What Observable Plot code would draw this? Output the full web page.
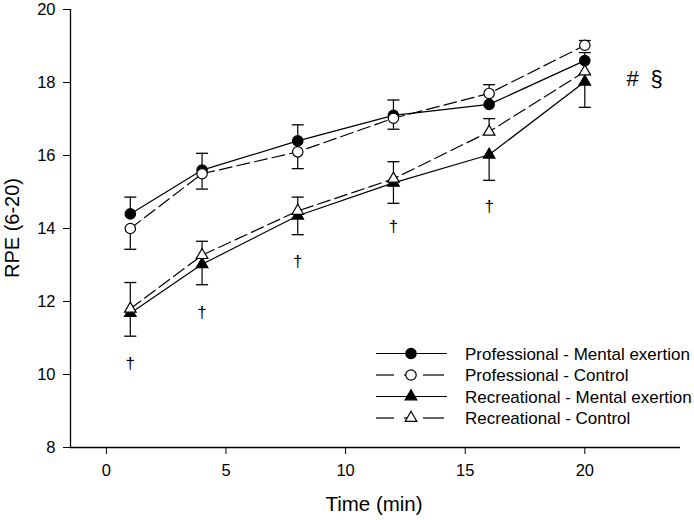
<!DOCTYPE html>
<html><head><meta charset="utf-8">
<script src="https://cdn.jsdelivr.net/npm/d3@7"></script>
<script src="https://cdn.jsdelivr.net/npm/@observablehq/plot@0.6"></script>
<style>
body{margin:0;background:#fff;}
svg{font-family:"Liberation Sans", Arial, sans-serif;}
</style>
</head><body><div id="chart"></div>
<script>
// ---- data ----
const times = [1, 4, 8, 12, 16, 20];
const seriesNames = ["Professional - Mental exertion", "Professional - Control", "Recreational - Mental exertion", "Recreational - Control"];
const proMental = [14.4, 15.6, 16.4, 17.1, 17.4, 18.6];
const proMentalErr = [0.46, 0.46, 0.44, 0.42, 0, 0.22];
const proControl = [14.0, 15.5, 16.1, 17.02, 17.7, 19.02];
const proControlErr = [-0.57, -0.42, -0.46, -0.3, 0.24, 0.13];
const recMental = [11.68, 13.02, 14.35, 15.25, 16.02, 18.02];
const recMentalErr = [-0.63, -0.56, -0.52, -0.56, -0.7, -0.7];
const recControl = [11.8, 13.27, 14.48, 15.36, 16.65, 18.3];
const recControlErr = [0.72, 0.38, 0.38, 0.47, 0.36, 0];
const daggerTimes = [1, 4, 8, 12, 16];
const daggerValues = [10.3, 11.7, 13.1, 14.05, 14.6];
const noteLabels = ["#", "§"];
const noteTimes = [22, 23];
const noteValue = 18.1;
const xTicks = [0, 5, 10, 15, 20];
const yTicks = [8, 10, 12, 14, 16, 18, 20];
const xDomain = [-1.5, 24];
const yDomain = [8, 20];

// ---- styles ----
const styles = [
  {symbol: "circle", fill: "black", dash: null, r: 5.2},
  {symbol: "circle", fill: "white", dash: "13,5", r: 5.2},
  {symbol: "triangle", fill: "black", dash: null, r: 4.3},
  {symbol: "triangle", fill: "white", dash: "13,5", r: 4.3}
];
const valuesList = [proMental, proControl, recMental, recControl];
const errList = [proMentalErr, proControlErr, recMentalErr, recControlErr];

const rows = [];
seriesNames.forEach((name, i) => {
  times.forEach((t, j) => {
    rows.push({series: name, idx: i, t, v: valuesList[i][j], err: errList[i][j], end: valuesList[i][j] + errList[i][j]});
  });
});
const errRows = rows.filter(d => d.err !== 0);
const daggers = daggerTimes.map((t, i) => ({t, v: daggerValues[i]}));
const notes = noteLabels.map((s, i) => ({s, t: noteTimes[i], v: noteValue}));

const capSymbol = {draw(ctx) { ctx.moveTo(-6, 0); ctx.lineTo(6, 0); }};

const marks = [
  Plot.ruleY([yDomain[0]], {stroke: "black", strokeWidth: 1.3}),
  Plot.ruleX([xDomain[0]], {stroke: "black", strokeWidth: 1.3}),
];
seriesNames.forEach((name, i) => {
  marks.push(Plot.line(rows.filter(d => d.idx === i), {x: "t", y: "v", stroke: "black", strokeWidth: 1.2, strokeDasharray: styles[i].dash}));
});
marks.push(Plot.ruleX(errRows, {x: "t", y1: "v", y2: "end", stroke: "black", strokeWidth: 1.2}));
marks.push(Plot.dot(errRows, {x: "t", y: "end", symbol: capSymbol, stroke: "black", strokeWidth: 1.3, fill: "none"}));
seriesNames.forEach((name, i) => {
  marks.push(Plot.dot(rows.filter(d => d.idx === i), {x: "t", y: "v", symbol: styles[i].symbol, r: styles[i].r, fill: styles[i].fill, stroke: "black", strokeWidth: 1.2}));
});
marks.push(Plot.text(daggers, {x: "t", y: "v", text: () => "†", fontSize: 17, fill: "black", fontFamily: "Liberation Sans, Arial, sans-serif"}));
marks.push(Plot.text(notes, {x: "t", y: "v", text: "s", fontSize: 22, fill: "black"}));
marks.push(Plot.axisX({ticks: xTicks, tickSize: 7, tickPadding: 10, fontSize: 16.5, label: null, stroke: "black"}));
marks.push(Plot.axisY({ticks: yTicks, tickSize: 7, tickPadding: 8, fontSize: 16.5, label: null, stroke: "black"}));

const chart = Plot.plot({
  width: 694,
  height: 520,
  marginLeft: 70,
  marginRight: 14,
  marginTop: 9,
  marginBottom: 73,
  x: {domain: xDomain},
  y: {domain: yDomain},
  style: {fontFamily: "Liberation Sans, Arial, sans-serif", color: "black", background: "white"},
  marks
});
document.getElementById("chart").appendChild(chart);

// ---- axis titles and legend ----
const svg = d3.select(chart);
svg.append("text").attr("x", 374).attr("y", 511).attr("text-anchor", "middle")
  .attr("font-size", 20.5).attr("fill", "black").text("Time (min)");
svg.append("text").attr("transform", "translate(19,228) rotate(-90)").attr("text-anchor", "middle")
  .attr("font-size", 20).attr("fill", "black").text("RPE (6-20)");

const legendY = [353.5, 375, 396.5, 418];
const lg = svg.append("g").attr("text-anchor", "start");
seriesNames.forEach((name, i) => {
  const y = legendY[i];
  const st = styles[i];
  if (st.dash) {
    [[376, 394], [404, 412], [423, 444]].forEach(([a, b]) => {
      lg.append("line").attr("x1", a).attr("x2", b).attr("y1", y).attr("y2", y).attr("stroke", "black").attr("stroke-width", 1.2);
    });
  } else {
    lg.append("line").attr("x1", 376).attr("x2", 447).attr("y1", y).attr("y2", y).attr("stroke", "black").attr("stroke-width", 1.2);
  }
  const sym = st.symbol === "circle" ? d3.symbolCircle : d3.symbolTriangle;
  lg.append("path").attr("d", d3.symbol(sym, Math.PI * st.r * st.r)())
    .attr("transform", `translate(411,${y})`).attr("fill", st.fill).attr("stroke", "black").attr("stroke-width", 1.2);
  lg.append("text").attr("x", 465).attr("y", y).attr("dy", "0.36em").attr("text-anchor", "start")
    .attr("font-size", 17).attr("fill", "black").text(name);
});
</script>
</body></html>
